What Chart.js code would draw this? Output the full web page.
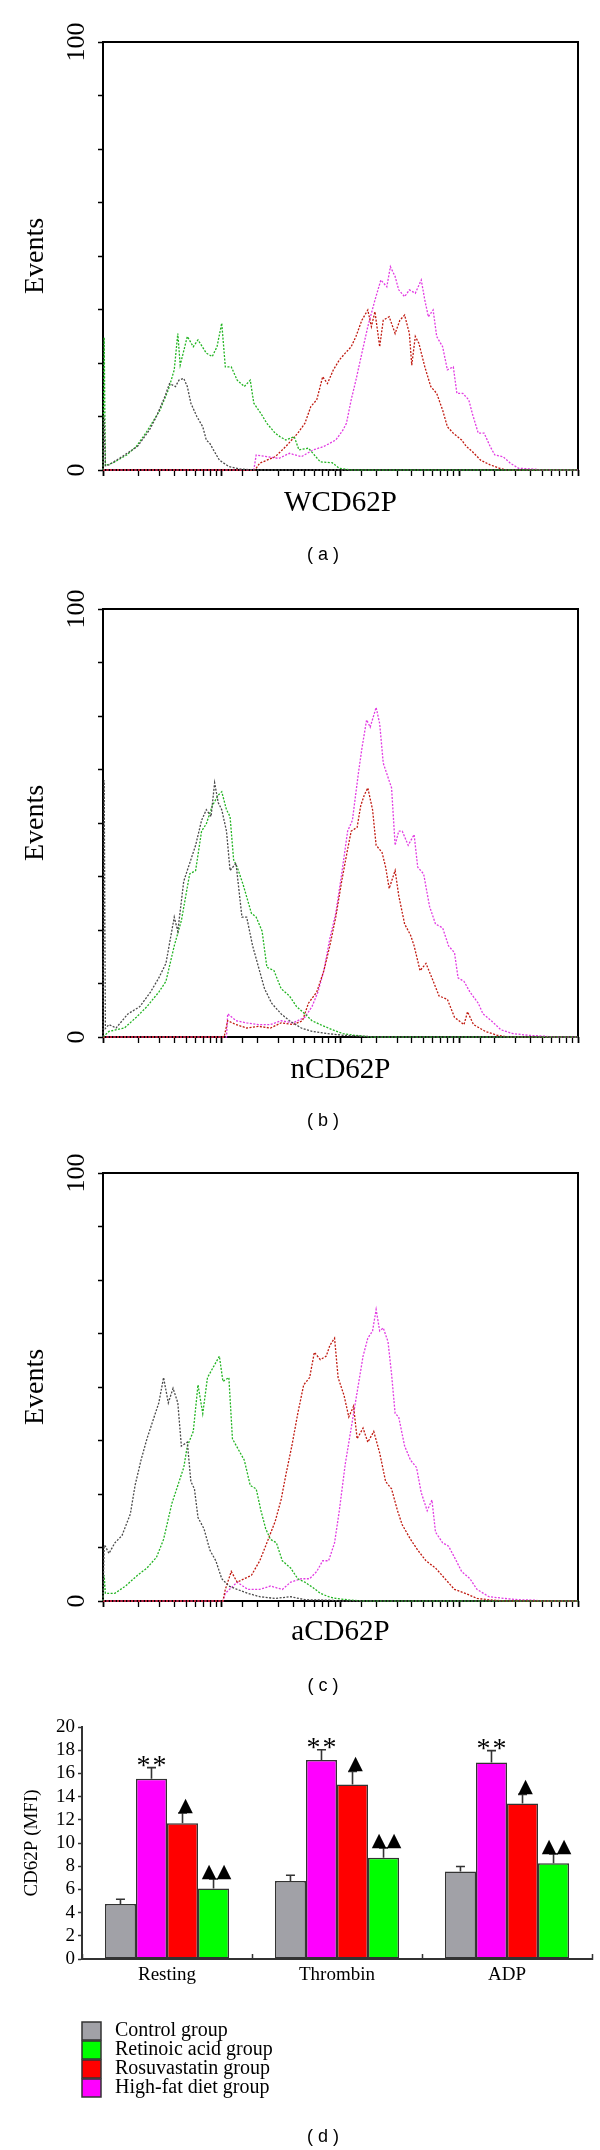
<!DOCTYPE html>
<html>
<head>
<meta charset="utf-8">
<script src="https://cdn.jsdelivr.net/npm/chart.js@4.4.1/dist/chart.umd.min.js"></script>
<style>
  body { margin: 0; background: #fff; width: 600px; height: 2150px; position: relative; overflow: hidden; }
  canvas { position: absolute; left: 0; }
</style>
</head>
<body>
<canvas id="histA" width="600" height="570" style="top:0px"></canvas>
<canvas id="histB" width="600" height="570" style="top:570px"></canvas>
<canvas id="histC" width="600" height="560" style="top:1140px"></canvas>
<canvas id="barD" width="600" height="450" style="top:1700px"></canvas>
<script>
// histogram points: [log10 fluorescence, events]
const aControl = [[0,0],[0.01,12.5],[0.02,1],[0.05,1.2],[0.16,3.1],[0.29,5.5],[0.39,9.3],[0.45,12.5],[0.52,17.1],[0.56,20.2],[0.61,19.5],[0.64,21.0],[0.68,21.4],[0.71,19.5],[0.74,15.6],[0.79,12.5],[0.84,10.1],[0.87,7.0],[0.90,6.2],[0.93,4.7],[0.98,2.3],[1.06,0.8],[1.16,0.2],[1.3,0],[4,0]];
const aRetinoic = [[0,0],[0.01,31],[0.02,1],[0.10,1.9],[0.20,3.5],[0.28,5.5],[0.36,8.6],[0.42,11.3],[0.48,14.0],[0.55,18.7],[0.60,23.4],[0.63,31.9],[0.65,24.5],[0.71,31.2],[0.76,28.8],[0.80,30.4],[0.87,27.3],[0.92,26.5],[0.96,28.8],[1.00,34.3],[1.03,24.1],[1.08,24.1],[1.13,21.0],[1.19,19.5],[1.24,21.0],[1.27,15.6],[1.33,13.2],[1.38,10.9],[1.45,8.6],[1.49,7.8],[1.54,7.0],[1.61,7.8],[1.65,4.7],[1.73,5.1],[1.78,3.5],[1.83,1.9],[1.93,1.7],[1.99,0.4],[2.09,0],[4,0]];
const aRosu = [[0,0],[1.28,0],[1.32,1.6],[1.45,3.1],[1.54,5.5],[1.64,8.6],[1.70,10.9],[1.75,14.8],[1.80,16.4],[1.85,21.8],[1.89,20.2],[1.94,23.4],[1.99,25.7],[2.04,27.3],[2.09,28.8],[2.13,31.2],[2.18,35.0],[2.23,37.4],[2.26,33.5],[2.29,37.0],[2.33,28.8],[2.36,35.0],[2.41,35.8],[2.46,31.9],[2.50,35.0],[2.54,36.2],[2.58,31.9],[2.60,24.5],[2.63,31.2],[2.66,29.6],[2.71,24.1],[2.76,19.5],[2.81,17.9],[2.86,14.0],[2.90,10.1],[2.95,8.6],[3.02,7.0],[3.06,5.5],[3.11,4.3],[3.18,2.3],[3.26,1.2],[3.34,0.4],[3.40,0],[4,0]];
const aHighFat = [[0,0],[1.27,0],[1.29,3.5],[1.38,3.1],[1.48,2.7],[1.57,3.9],[1.67,3.1],[1.77,4.7],[1.86,5.5],[1.96,7.0],[2.02,9.3],[2.05,10.9],[2.09,16.4],[2.13,21.0],[2.18,27.3],[2.23,33.5],[2.29,39.7],[2.34,44.4],[2.39,42.8],[2.42,47.5],[2.46,45.2],[2.49,42.1],[2.54,40.5],[2.58,42.1],[2.63,41.3],[2.68,44.4],[2.71,39.7],[2.74,35.8],[2.78,37.4],[2.81,31.2],[2.86,28.8],[2.90,23.4],[2.95,24.1],[2.98,17.9],[3.03,17.9],[3.08,16.4],[3.11,13.2],[3.16,8.6],[3.21,8.6],[3.26,5.5],[3.30,3.5],[3.37,3.1],[3.43,1.6],[3.50,0.4],[3.63,0.2],[3.7,0],[4,0]];

const bControl = [[0,0],[0.01,60],[0.02,2],[0.05,2.9],[0.11,2.1],[0.21,5.4],[0.31,7.1],[0.40,10.5],[0.47,13.8],[0.53,17.2],[0.60,28.0],[0.63,24.7],[0.68,36.4],[0.73,40.6],[0.78,44.8],[0.83,50.6],[0.87,53.1],[0.91,51.5],[0.94,59.4],[0.97,54.8],[1.00,53.1],[1.04,48.1],[1.07,38.9],[1.12,40.6],[1.17,28.0],[1.21,28.0],[1.26,21.3],[1.31,16.3],[1.36,11.3],[1.42,7.9],[1.50,5.4],[1.57,3.8],[1.67,2.1],[1.76,1.3],[1.89,0.8],[2.02,0.4],[2.18,0.2],[2.3,0],[4,0]];
const bRetinoic = [[0,0],[0.05,1.3],[0.18,2.1],[0.28,4.6],[0.37,7.1],[0.47,10.5],[0.53,13.0],[0.60,21.3],[0.66,27.2],[0.73,38.1],[0.78,38.9],[0.83,48.1],[0.87,49.8],[0.92,54.0],[0.97,56.5],[1.00,57.3],[1.04,53.1],[1.07,51.5],[1.10,41.4],[1.13,39.7],[1.18,35.6],[1.25,28.9],[1.29,28.0],[1.34,24.7],[1.38,16.3],[1.44,15.5],[1.50,11.3],[1.57,9.6],[1.63,7.1],[1.70,5.4],[1.76,3.8],[1.83,2.9],[1.93,1.7],[2.02,0.8],[2.12,0.4],[2.25,0],[4,0]];
const bRosu = [[0,0],[1.02,0],[1.05,3.8],[1.12,2.9],[1.21,2.1],[1.31,2.5],[1.41,2.1],[1.50,3.3],[1.60,2.9],[1.68,3.8],[1.73,7.9],[1.80,10.5],[1.86,15.5],[1.91,21.3],[1.96,28.0],[2.01,36.4],[2.06,43.9],[2.09,48.1],[2.14,49.0],[2.17,54.0],[2.20,56.5],[2.23,58.2],[2.27,53.1],[2.30,44.8],[2.35,43.1],[2.38,39.7],[2.41,34.7],[2.46,38.9],[2.49,33.1],[2.54,26.4],[2.59,23.8],[2.62,21.3],[2.67,15.5],[2.72,17.2],[2.77,13.8],[2.83,9.6],[2.90,8.8],[2.96,4.6],[3.04,2.9],[3.07,5.9],[3.12,2.9],[3.22,1.3],[3.32,0.4],[3.41,0],[4,0]];
const bHighFat = [[0,0],[1.04,0],[1.05,5.4],[1.12,3.8],[1.21,3.3],[1.31,2.9],[1.41,2.9],[1.50,3.8],[1.60,3.3],[1.70,4.6],[1.76,7.1],[1.81,10.5],[1.86,15.5],[1.91,23.0],[1.96,28.9],[2.01,38.1],[2.06,48.1],[2.10,50.6],[2.15,61.5],[2.18,67.4],[2.22,74.1],[2.25,72.4],[2.30,77.0],[2.33,73.2],[2.36,64.0],[2.39,61.5],[2.43,58.2],[2.46,44.8],[2.49,48.1],[2.52,48.1],[2.57,44.8],[2.62,47.3],[2.65,39.7],[2.70,38.1],[2.75,30.5],[2.80,26.4],[2.86,25.5],[2.91,21.3],[2.96,19.7],[2.99,13.8],[3.04,13.0],[3.09,10.5],[3.16,7.9],[3.20,5.4],[3.27,3.8],[3.35,1.7],[3.45,0.8],[3.58,0.4],[3.71,0.2],[3.8,0],[4,0]];

const cControl = [[0,0],[0.01,13],[0.02,12.8],[0.05,11.1],[0.10,13.6],[0.16,15.3],[0.23,20.3],[0.27,27.0],[0.32,32.9],[0.37,37.9],[0.42,42.1],[0.47,46.3],[0.51,52.2],[0.55,46.3],[0.59,49.7],[0.63,46.3],[0.66,36.2],[0.71,37.1],[0.74,27.9],[0.77,26.2],[0.80,19.5],[0.85,16.9],[0.90,11.9],[0.95,9.4],[1.00,5.2],[1.06,3.5],[1.13,2.7],[1.22,1.8],[1.32,1.0],[1.45,0.6],[1.58,1.0],[1.70,0.3],[1.90,0.2],[2.0,0],[4,0]];
const cRetinoic = [[0,0],[0.01,6],[0.02,1.8],[0.10,1.8],[0.19,3.5],[0.29,6.0],[0.37,7.7],[0.45,10.2],[0.51,14.4],[0.58,22.8],[0.63,27.0],[0.68,31.2],[0.71,36.2],[0.76,39.6],[0.80,50.5],[0.84,43.8],[0.88,52.2],[0.93,54.7],[0.98,57.2],[1.01,51.3],[1.06,52.2],[1.09,37.9],[1.14,35.4],[1.19,32.9],[1.24,27.0],[1.29,26.2],[1.33,21.1],[1.37,16.9],[1.41,14.4],[1.46,13.6],[1.51,9.4],[1.58,7.7],[1.64,5.2],[1.70,4.4],[1.77,3.1],[1.83,1.8],[1.90,1.0],[1.96,0.6],[2.09,0.2],[2.2,0],[4,0]];
const cRosu = [[0,0],[1.01,0],[1.03,2.7],[1.08,6.9],[1.13,4.4],[1.19,5.2],[1.25,6.0],[1.32,9.4],[1.38,13.6],[1.45,18.6],[1.50,23.7],[1.54,29.5],[1.59,36.2],[1.64,43.8],[1.69,50.5],[1.74,52.2],[1.78,58.1],[1.83,56.4],[1.88,57.2],[1.91,59.7],[1.95,61.4],[1.98,52.2],[2.03,48.0],[2.07,43.0],[2.11,45.5],[2.14,37.9],[2.19,40.4],[2.23,37.1],[2.28,39.6],[2.33,34.6],[2.38,27.9],[2.43,26.2],[2.48,21.1],[2.52,17.8],[2.59,14.4],[2.65,11.9],[2.72,9.4],[2.80,7.7],[2.88,5.2],[2.96,2.7],[3.05,1.8],[3.15,0.6],[3.28,0.2],[3.38,0],[4,0]];
const cHighFat = [[0,0],[1.01,0],[1.03,1.8],[1.13,4.4],[1.22,2.7],[1.32,2.7],[1.41,3.5],[1.51,2.7],[1.58,4.4],[1.67,5.2],[1.74,5.2],[1.80,6.9],[1.85,9.4],[1.90,9.4],[1.95,13.6],[1.99,21.1],[2.04,32.0],[2.09,40.4],[2.14,48.8],[2.19,57.2],[2.23,61.4],[2.27,63.1],[2.30,68.1],[2.33,63.1],[2.36,63.8],[2.40,60.6],[2.43,53.0],[2.46,43.8],[2.49,43.0],[2.54,36.2],[2.59,32.9],[2.64,31.2],[2.68,25.3],[2.73,21.1],[2.77,23.6],[2.80,16.1],[2.86,13.6],[2.91,12.8],[2.96,10.2],[3.02,6.9],[3.09,5.2],[3.15,2.7],[3.25,1.0],[3.38,0.6],[3.50,0.3],[3.63,0.2],[3.7,0],[4,0]];

const histYLabels = [0, 100];

// bar chart (d)
const stimuli = ['Resting', 'Thrombin', 'ADP'];
const legendOrder = ['Control group', 'Retinoic acid group', 'Rosuvastatin group', 'High-fat diet group'];
const controlMFI = [4.75, 6.73, 7.54];
const controlSD = [0.40, 0.49, 0.43];
const highFatMFI = [15.54, 17.15, 16.95];
const highFatSD = [0.96, 0.89, 1.01];
const rosuMFI = [11.71, 15.05, 13.41];
const rosuSD = [0.87, 1.12, 0.78];
const retinoicMFI = [6.07, 8.72, 8.26];
const retinoicSD = [0.83, 0.86, 0.80];
const highFatMarks = ['**', '**', '**'];
const rosuMarks = ['▲', '▲', '▲'];
const retinoicMarks = ['▲▲', '▲▲', '▲▲'];
const mfiTicks = [0, 2, 4, 6, 8, 10, 12, 14, 16, 18, 20];

Chart.defaults.font.family = '"Liberation Serif", "Times New Roman", serif';

const lineColors = { control: '#4a4a4a', retinoic: '#22b422', rosu: '#c01a10', highFat: '#e23ce2' };

const histExtras = {
  id: 'histExtras',
  beforeDatasetsDraw(chart) {
    const { ctx, chartArea: a } = chart;
    ctx.save();
    ctx.strokeStyle = '#000';
    ctx.lineWidth = 2;
    ctx.strokeRect(a.left, a.top, a.right - a.left, a.bottom - a.top);
    ctx.restore();
  },
  afterDraw(chart, args, opts) {
    const { ctx } = chart;
    const y = chart.scales.y;
    ctx.save();
    ctx.fillStyle = '#000';
    ctx.textAlign = 'center';
    ctx.textBaseline = 'middle';
    ctx.font = '26px "Liberation Serif"';
    histYLabels.forEach(v => {
      ctx.save();
      ctx.translate(77, y.getPixelForValue(v));
      ctx.rotate(-Math.PI / 2);
      ctx.fillText(String(v), 0, 0);
      ctx.restore();
    });
    ctx.font = '18px "Liberation Sans"';
    ctx.fillText(opts.tag, 323, opts.tagY);
    ctx.restore();
  }
};

function histChart(id, p) {
  const sets = [
    { label: 'Control group', pts: p.control, color: lineColors.control, order: 0 },
    { label: 'Retinoic acid group', pts: p.retinoic, color: lineColors.retinoic, order: 1 },
    { label: 'Rosuvastatin group', pts: p.rosu, color: lineColors.rosu, order: 2 },
    { label: 'High-fat diet group', pts: p.highFat, color: lineColors.highFat, order: 3 }
  ];
  return new Chart(document.getElementById(id), {
    type: 'line',
    data: {
      datasets: sets.map(s => ({
        label: s.label,
        data: s.pts.map(q => ({ x: Math.pow(10, q[0]), y: q[1] })),
        borderColor: s.color,
        borderWidth: 1.3,
        borderDash: [2, 1.5],
        pointRadius: 0,
        tension: 0,
        fill: false,
        clip: 4,
        order: s.order
      }))
    },
    options: {
      responsive: false,
      animation: false,
      layout: { padding: { top: p.padTop, right: 22, left: 0, bottom: 0 } },
      plugins: {
        legend: { display: false },
        tooltip: { enabled: false },
        histExtras: { tag: p.tag, tagY: p.tagY }
      },
      scales: {
        x: {
          type: 'logarithmic',
          min: 1,
          max: 10000,
          ticks: { display: false },
          grid: {
            drawOnChartArea: false,
            color: '#000',
            tickLength: 6,
            tickWidth: c => (c.tick && c.tick.major ? 1.8 : 1.3)
          },
          border: { display: false },
          title: {
            display: true,
            text: p.xTitle,
            color: '#000',
            font: { size: 29 },
            padding: { top: 0, bottom: p.titlePad }
          },
          afterFit: s => { s.height = p.xAxisH; }
        },
        y: {
          min: 0,
          max: 100,
          ticks: { display: false, stepSize: 12.5 },
          grid: { drawOnChartArea: false, color: '#000', tickLength: 5, tickWidth: 1.5 },
          border: { display: false },
          title: {
            display: true,
            text: 'Events',
            color: '#000',
            font: { size: 28 },
            padding: { top: 19, bottom: 0 }
          },
          afterFit: s => { s.width = 103; }
        }
      }
    },
    plugins: [histExtras]
  });
}

histChart('histA', { control: aControl, retinoic: aRetinoic, rosu: aRosu, highFat: aHighFat,
  xTitle: 'WCD62P', padTop: 42, xAxisH: 100, titlePad: 49.6, tag: '( a )', tagY: 555 });
histChart('histB', { control: bControl, retinoic: bRetinoic, rosu: bRosu, highFat: bHighFat,
  xTitle: 'nCD62P', padTop: 39, xAxisH: 103, titlePad: 52.6, tag: '( b )', tagY: 551 });
histChart('histC', { control: cControl, retinoic: cRetinoic, rosu: cRosu, highFat: cHighFat,
  xTitle: 'aCD62P', padTop: 33, xAxisH: 99, titlePad: 50.6, tag: '( c )', tagY: 546 });

// error bars, significance marks, legend and panel tag for (d)
const barExtras = {
  id: 'barExtras',
  afterDatasetsDraw(chart) {
    const { ctx } = chart;
    const y = chart.scales.y;
    ctx.save();
    chart.data.datasets.forEach((ds, i) => {
      const meta = chart.getDatasetMeta(i);
      meta.data.forEach((bar, j) => {
        const top = y.getPixelForValue(ds.data[j] + ds.sd[j]);
        ctx.strokeStyle = '#333';
        ctx.lineWidth = 1.6;
        ctx.beginPath();
        ctx.moveTo(bar.x, bar.y);
        ctx.lineTo(bar.x, top);
        ctx.moveTo(bar.x - 4.5, top);
        ctx.lineTo(bar.x + 4.5, top);
        ctx.stroke();
        const mark = ds.marks ? ds.marks[j] : '';
        if (!mark) return;
        const chars = Array.from(mark);
        const isStar = chars[0] === '*';
        const gap = isStar ? 16 : 15;
        ctx.fillStyle = '#000';
        ctx.textAlign = 'center';
        ctx.textBaseline = 'alphabetic';
        ctx.font = isStar ? '28px "Liberation Serif"' : '19px "DejaVu Sans"';
        chars.forEach((ch, k) => {
          const cx = bar.x + (k - (chars.length - 1) / 2) * gap + (isStar ? 0 : 3);
          ctx.fillText(ch, cx, isStar ? top + 6 : top - 2);
        });
      });
    });
    ctx.restore();
  },
  afterDraw(chart) {
    const { ctx } = chart;
    ctx.save();
    legendOrder.forEach((name, k) => {
      const ds = chart.data.datasets.find(d => d.label === name);
      const by = 322 + k * 19;
      ctx.fillStyle = ds.backgroundColor;
      ctx.fillRect(82, by, 19, 18);
      ctx.strokeStyle = '#333';
      ctx.lineWidth = 1.5;
      ctx.strokeRect(82, by, 19, 18);
      ctx.fillStyle = '#000';
      ctx.font = '20px "Liberation Serif"';
      ctx.textAlign = 'left';
      ctx.textBaseline = 'middle';
      ctx.fillText(name, 115, by + 9);
    });
    ctx.font = '18px "Liberation Sans"';
    ctx.textAlign = 'center';
    ctx.textBaseline = 'middle';
    ctx.fillText('( d )', 323, 437);
    ctx.restore();
  }
};

const barStyle = { borderColor: '#333', borderWidth: 1.5, borderSkipped: false, barPercentage: 1, categoryPercentage: 0.73 };

new Chart(document.getElementById('barD'), {
  type: 'bar',
  data: {
    labels: stimuli,
    datasets: [
      { label: 'Control group', data: controlMFI, sd: controlSD, backgroundColor: '#a1a1a7', ...barStyle },
      { label: 'High-fat diet group', data: highFatMFI, sd: highFatSD, marks: highFatMarks, backgroundColor: '#ff00ff', ...barStyle },
      { label: 'Rosuvastatin group', data: rosuMFI, sd: rosuSD, marks: rosuMarks, backgroundColor: '#ff0000', ...barStyle },
      { label: 'Retinoic acid group', data: retinoicMFI, sd: retinoicSD, marks: retinoicMarks, backgroundColor: '#00ff00', ...barStyle }
    ]
  },
  options: {
    responsive: false,
    animation: false,
    layout: { padding: { top: 27, right: 8, left: 0, bottom: 0 } },
    plugins: { legend: { display: false }, tooltip: { enabled: false } },
    scales: {
      x: {
        grid: { offset: true, drawOnChartArea: false, color: '#333', tickLength: -5, tickWidth: 1.5 },
        border: { color: '#333', width: 2 },
        ticks: { color: '#000', font: { size: 19 }, padding: 10 },
        afterFit: s => { s.height = 191; }
      },
      y: {
        min: 0,
        max: 20,
        afterBuildTicks: s => { s.ticks = mfiTicks.map(v => ({ value: v })); },
        ticks: { color: '#000', font: { size: 19 }, padding: 3, autoSkip: false },
        grid: { drawOnChartArea: false, color: '#333', tickLength: 4, tickWidth: 1.5 },
        border: { color: '#333', width: 2 },
        title: { display: true, text: 'CD62P (MFI)', color: '#000', font: { size: 19 }, padding: { top: 21, bottom: 0 } },
        afterFit: s => { s.width = 82; }
      }
    }
  },
  plugins: [barExtras]
});
</script>
</body>
</html>
